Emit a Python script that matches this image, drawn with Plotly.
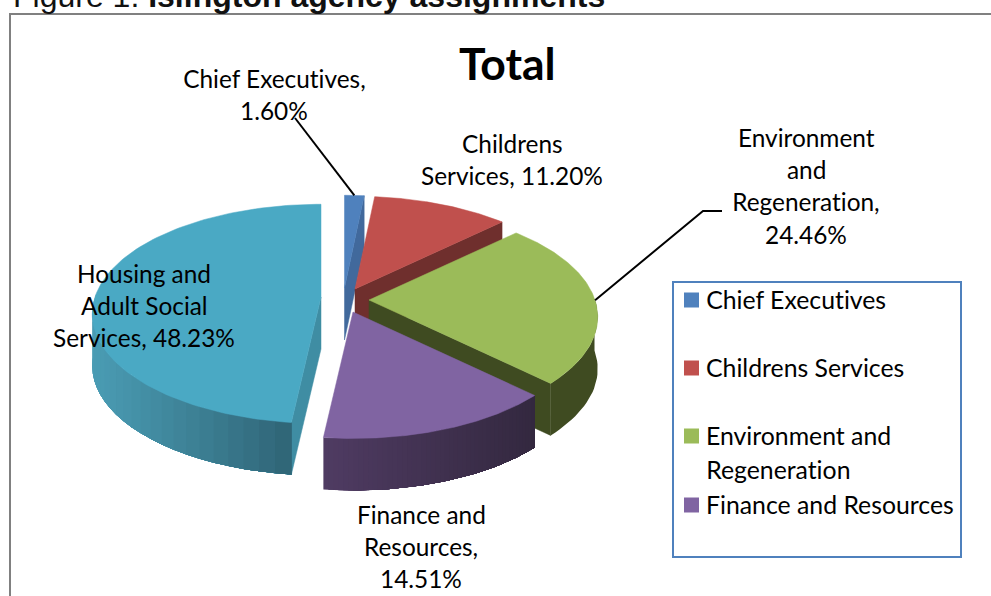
import numpy as np
import plotly.graph_objects as go

# Department shares of the total, in per cent
categories = ["Chief Executives", "Childrens Services", "Environment and Regeneration",
              "Finance and Resources", "Housing and Adult Social Services"]
shares = [1.60, 11.20, 24.46, 14.51, 48.23]

# Legend rows (text lines per entry)
legend_rows = [["Chief Executives"], ["Childrens Services"],
               ["Environment and", "Regeneration"], ["Finance and Resources"]]

# Data label lines per slice
label_lines = [["Chief Executives,", "1.60%"],
               ["Childrens", "Services, 11.20%"],
               ["Environment", "and", "Regeneration,", "24.46%"],
               ["Finance and", "Resources,", "14.51%"],
               ["Housing and", "Adult Social", "Services, 48.23%"]]

# Styling of each slice: top face, rim gradient (left to right), cut face
TOP = ["#4f81bd", "#c0504d", "#9bbb59", "#8064a2", "#4aa9c4"]
RIM = [("#3f6797", "#3f6797"), ("#6f2f2d", "#6f2f2d"), ("#3f4b21", "#3f4b21"),
       ("#4f3b62", "#33283f"), ("#4a9cb4", "#2e6273")]
CUT = ["#41699c", "#6f2f2d", "#3f4b21", "#33283f", "#3f8da3"]

# Pie placement on the 991x596 page
HUB = [(344.5, 288), (355, 289), (369, 300), (353, 312), (321, 297)]
RX, RY, DEPTH, PERSPECTIVE = 226, 107, 52, 6.5
LABEL_XY = [(274, 78), (512, 143), (806, 137), (421, 514), (144, 273)]
LABEL_STEP = 32.4
DRAW_ORDER = [4, 0, 1, 2, 3]
FONT = "Lato"


def project(hub, theta):
    """Map a clockwise-from-top rim angle (radians) to page coordinates."""
    x, y = np.sin(theta), np.cos(theta)
    p = PERSPECTIVE / (PERSPECTIVE + y)
    return hub[0] + RX * x * p, hub[1] - RY * y * p


def mix(a, b, t):
    ca = [int(a[i:i + 2], 16) for i in (1, 3, 5)]
    cb = [int(b[i:i + 2], 16) for i in (1, 3, 5)]
    return "rgb(%d,%d,%d)" % tuple(round(u + (v - u) * t) for u, v in zip(ca, cb))


def polygon(xs, ys, colour, edge=0.5):
    xs, ys = list(xs), list(ys)
    return go.Scatter(x=xs + [xs[0]], y=ys + [ys[0]], mode="lines", fill="toself",
                      fillcolor=colour, line=dict(color=colour, width=edge),
                      hoverinfo="skip", showlegend=False)


fig = go.Figure()

edges = np.concatenate([[0], np.cumsum(shares)]) / sum(shares) * 2 * np.pi

for i in DRAW_ORDER:
    hub, a0, a1 = HUB[i], edges[i], edges[i + 1]

    # Cut faces that turn towards the viewer
    for angle, show in ((a1, a1 < np.pi), (a0, a0 > np.pi)):
        if show:
            ex, ey = project(hub, angle)
            fig.add_trace(polygon([hub[0], ex, ex, hub[0]],
                                  [hub[1], ey, ey + DEPTH, hub[1] + DEPTH], CUT[i]))

    # Outer rim, front-facing part only. Bands are painted left to right and
    # each one reaches the far end, so the next band covers it without a seam.
    theta = np.linspace(a0, a1, 50)
    theta = theta[np.cos(theta) <= 0.03][::-1]
    if theta.size > 1:
        rx, ry = project(hub, theta)
        span = max(rx.max() - rx.min(), 1)
        steps = range(theta.size - 1) if RIM[i][0] != RIM[i][1] else [0]
        for k in steps:
            t = (rx[k] - rx.min()) / span
            fig.add_trace(polygon(np.r_[rx[k:], rx[k:][::-1]],
                                  np.r_[ry[k:], ry[k:][::-1] + DEPTH],
                                  mix(RIM[i][0], RIM[i][1], t), edge=0))

    # Top face
    theta = np.linspace(a0, a1, 120)
    rx, ry = project(hub, theta)
    fig.add_trace(polygon(np.r_[hub[0], rx], np.r_[hub[1], ry], TOP[i]))

# Leader lines start on the middle of the rim of the two outer labels
leaders = {0: [(295, 118)], 2: [(722, 211), (703, 211)]}
for i, bends in leaders.items():
    mx, my = project(HUB[i], (edges[i] + edges[i + 1]) / 2)
    xs = [b[0] for b in bends] + [mx]
    ys = [b[1] for b in bends] + [my]
    fig.add_trace(go.Scatter(x=xs, y=ys, mode="lines", line=dict(color="#000000", width=2),
                             hoverinfo="skip", showlegend=False))

notes = []


def put(text, x, y, size, anchor="center", colour="#000000", family=FONT, lift=0):
    notes.append(dict(text=text, x=x, y=y, xref="x", yref="y", xanchor=anchor, yanchor="middle",
                      yshift=lift, showarrow=False,
                      font=dict(family=family, size=size, color=colour)))


# Slice labels
for (lx, ly), lines in zip(LABEL_XY, label_lines):
    for n, line in enumerate(lines):
        put(line, lx, ly + n * LABEL_STEP, 24.4)

# Chart title and the figure caption, which runs off the top of the page
put("<b>Total</b>", 507, 62.5, 44.5)
put("Figure 1: <b>Islington agency assignments</b>", 11, 0.5, 32, anchor="left",
    colour="#111111", family="Liberation Sans", lift=4.5)

# Legend
legend_y = [299, 367, 435, 504]
for (rows, ly, colour) in zip(legend_rows, legend_y, TOP):
    fig.add_trace(go.Scatter(x=[691.5], y=[ly + 1], mode="markers",
                             marker=dict(symbol="square", size=15, color=colour),
                             hoverinfo="skip", showlegend=False))
    for n, row in enumerate(rows):
        put(row, 703.5, ly + n * 34, 24.8, anchor="left")

fig.update_layout(
    width=991, height=596, margin=dict(l=0, r=0, t=0, b=0),
    paper_bgcolor="#ffffff", plot_bgcolor="#ffffff", showlegend=False,
    xaxis=dict(range=[0, 991], visible=False, fixedrange=True),
    yaxis=dict(range=[596, 0], visible=False, fixedrange=True),
    annotations=notes,
    shapes=[
        dict(type="rect", xref="x", yref="y", x0=10, y0=14, x1=1000, y1=610,
             line=dict(color="#808080", width=2), fillcolor="rgba(0,0,0,0)", layer="below"),
        dict(type="rect", xref="x", yref="y", x0=673, y0=282, x1=961, y1=557,
             line=dict(color="#4f81bd", width=2), fillcolor="rgba(0,0,0,0)", layer="below"),
    ],
)

# Plain letterforms: the label font would otherwise join "ti" into one glyph
no_ligatures = ("var s=document.createElement('style');"
                "s.textContent='svg text{font-variant-ligatures:none !important;"
                "font-feature-settings:\"liga\" 0,\"clig\" 0,\"dlig\" 0 !important}';"
                "document.head.appendChild(s);")
fig.write_html("out.html", config={"displayModeBar": False}, post_script=no_ligatures)
